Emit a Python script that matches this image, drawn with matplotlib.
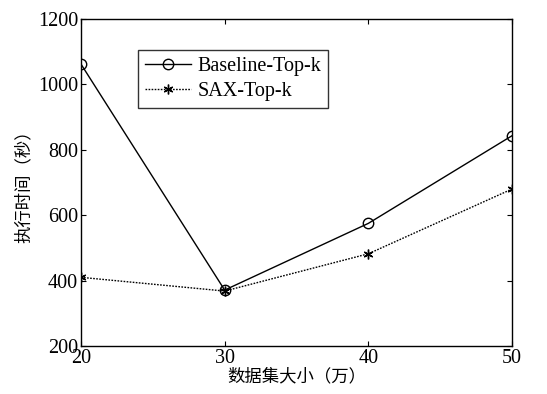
import matplotlib
matplotlib.use("Agg")
import matplotlib.pyplot as plt

x = [20, 30, 40, 50]
baseline = [1062, 371, 575, 843]
sax = [410, 368, 482, 680]
xticks = [20, 30, 40, 50]
yticks = [200, 400, 600, 800, 1000, 1200]
labels = ["Baseline-Top-k", "SAX-Top-k"]
xlabel = "数据集大小（万）"
ylabel = "执行时间（秒）"

plt.rcParams['font.family'] = ['Liberation Serif', 'Noto Sans CJK SC']

fig = plt.figure(figsize=(5.47, 3.94), dpi=100)
ax = fig.add_axes([81/547, 48/394, (512-81)/547, (346-19)/394])

ax.plot(x, baseline, color='black', linestyle='-', linewidth=1.0,
        marker='o', markersize=7.5, markerfacecolor='none', markeredgewidth=1.0,
        label=labels[0])
ax.plot(x, sax, color='black', linestyle=(0, (1.2, 1.0)), linewidth=1.0,
        marker=(6, 2, 0), markersize=7, markeredgewidth=1.0,
        label=labels[1])

ax.set_xlim(20, 50)
ax.set_ylim(200, 1200)
ax.set_xticks(xticks)
ax.set_yticks(yticks)
ax.tick_params(direction='in', top=True, right=True, length=3.5, width=0.8,
               labelsize=14.5, pad=2)
for s in ax.spines.values():
    s.set_linewidth(1.0)

ax.set_xlabel(xlabel, fontsize=12.5, family=['Noto Sans CJK SC'], labelpad=0)
ax.set_ylabel(ylabel, fontsize=12.5, family=['Noto Sans CJK SC'], labelpad=4)

leg = ax.legend(loc='upper left', bbox_to_anchor=(57/431, 1 - 31/327),
                fontsize=14.5, frameon=True, fancybox=False, edgecolor='black',
                borderpad=0.35, labelspacing=0.3, handlelength=2.3,
                handletextpad=0.3, borderaxespad=0)
leg.get_frame().set_linewidth(1.0)

fig.savefig('out.png', dpi=100)
